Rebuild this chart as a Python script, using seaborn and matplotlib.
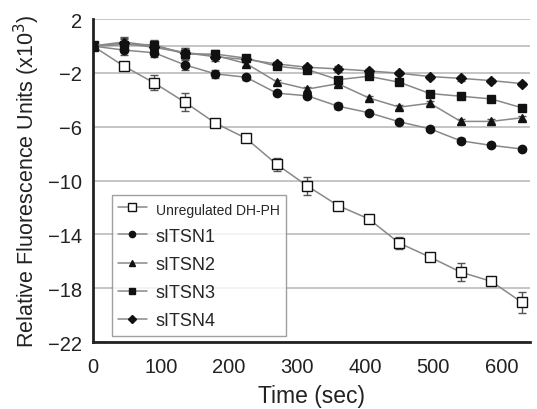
import numpy as np
import pandas as pd
import matplotlib
matplotlib.use("Agg")
import matplotlib.pyplot as plt
import seaborn as sns

# time points (sec)
time = [0, 45, 90, 135, 180, 225, 270, 315, 360, 405, 450, 495, 540, 585, 630]

# relative fluorescence (x10^3)
unreg = [0, -1.48, -2.74, -4.17, -5.73, -6.86, -8.79, -10.4, -11.85, -12.84, -14.64, -15.68, -16.79, -17.48, -19.04]
unreg_err = [0, 0.1, 0.55, 0.65, 0.1, 0.1, 0.5, 0.65, 0.15, 0.1, 0.42, 0.1, 0.65, 0.25, 0.8]
sitsn1 = [0, -0.3, -0.5, -1.4, -2.07, -2.32, -3.5, -3.7, -4.47, -4.95, -5.63, -6.15, -7.04, -7.38, -7.65]
sitsn2 = [0, 0.3, 0.0, -0.5, -0.7, -1.3, -2.66, -3.2, -2.8, -3.85, -4.54, -4.25, -5.6, -5.6, -5.33]
sitsn3 = [0, 0.1, 0.1, -0.6, -0.6, -0.9, -1.5, -1.75, -2.5, -2.25, -2.69, -3.53, -3.73, -3.93, -4.59]
sitsn4 = [0, 0.2, -0.1, -0.5, -0.8, -1.0, -1.33, -1.58, -1.7, -1.85, -2.02, -2.27, -2.4, -2.57, -2.79]
sitsn_err = [0, 0.4, 0.35, 0.35, 0.3, 0.2, 0.15, 0.15, 0.2, 0.15, 0.15, 0.15, 0.2, 0.15, 0.15]

labels = ["Unregulated DH-PH", "sITSN1", "sITSN2", "sITSN3", "sITSN4"]
markers = ["s", "o", "^", "s", "D"]
yticks = [2, -2, -6, -10, -14, -18, -22]
xticks = [0, 100, 200, 300, 400, 500, 600]

sns.set_style("white")
plt.rcParams["font.family"] = ["Liberation Sans", "DejaVu Sans"]

fig = plt.figure(figsize=(5.37, 4.10), dpi=100)
ax = fig.add_axes([0.173, 0.163, 0.814, 0.788])

for yv in yticks + [0]:
    ax.axhline(yv, color="#bbbbbb", lw=1.2, zorder=0)

series = [unreg, sitsn1, sitsn2, sitsn3, sitsn4]
errs = [unreg_err] + [sitsn_err] * 4
for vals, err, lab, mk in zip(series, errs, labels, markers):
    df = pd.DataFrame({"time": time, "value": vals})
    face = "white" if lab.startswith("Unreg") else "#111111"
    ms = 7 if lab.startswith("Unreg") else (5 if mk == "D" else 6)
    ax.errorbar(time, vals, yerr=err, fmt="none", ecolor="#555555",
                elinewidth=1, capsize=3, capthick=1, zorder=2)
    sns.lineplot(data=df, x="time", y="value", ax=ax, color="#888888", lw=1.1,
                 marker=mk, markersize=ms, markerfacecolor=face,
                 markeredgecolor="#111111", markeredgewidth=1.0,
                 label=lab, zorder=3)

ax.set_xlim(0, 642)
ax.set_ylim(-22, 2)
ax.set_xticks(xticks)
ax.set_yticks(yticks)
ax.tick_params(axis="both", direction="inout", length=9, width=1.5,
               labelsize=14.5, colors="#222222")
ax.tick_params(axis="x", pad=6)
for s in ["top", "right"]:
    ax.spines[s].set_visible(False)
for s in ["left", "bottom"]:
    ax.spines[s].set_linewidth(2)
    ax.spines[s].set_color("#222222")

ax.set_xlabel("Time (sec)", fontsize=16.5, color="#222222", labelpad=6)
ax.set_ylabel("Relative Fluorescence Units (x10$^3$)", fontsize=15.5,
              color="#222222", labelpad=4)

leg = ax.legend(loc="lower left", bbox_to_anchor=(0.043, 0.02), fontsize=13,
                frameon=True, fancybox=False, edgecolor="#888888",
                handlelength=1.6, labelspacing=0.62, borderpad=0.35,
                handletextpad=0.5, borderaxespad=0, markerscale=0.75)
leg.get_frame().set_linewidth(1)
leg.get_texts()[0].set_fontsize(10)

fig.savefig("out.png", dpi=100)
